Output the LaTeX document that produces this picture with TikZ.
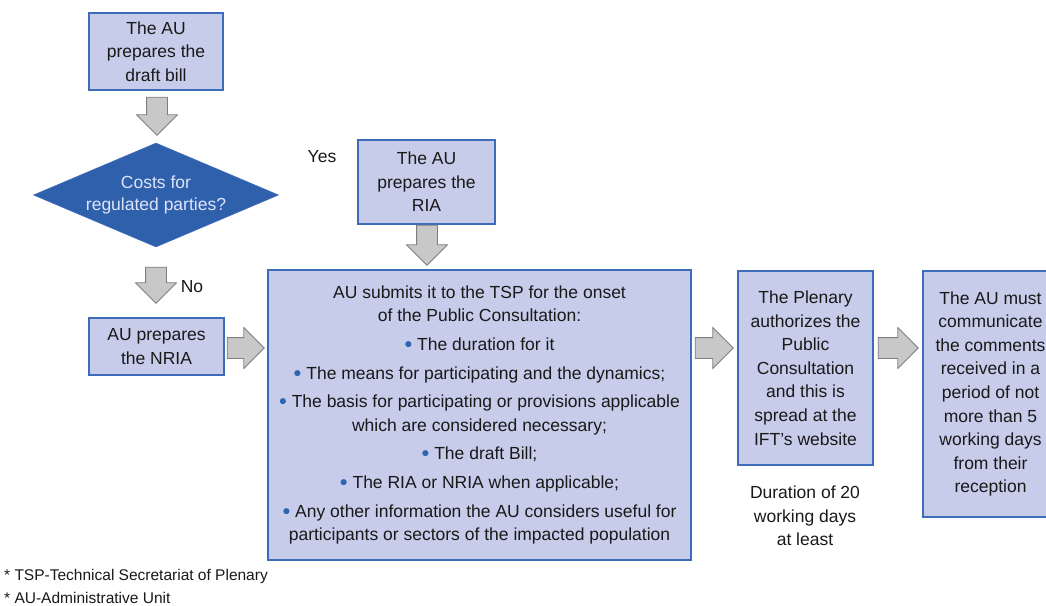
\documentclass[tikz,border=0pt]{standalone}
\usepackage{fontspec}
\setmainfont{Liberation Sans}
\usetikzlibrary{shapes.geometric,shapes.arrows,calc}
\definecolor{boxfill}{RGB}{198,204,234}
\definecolor{boxline}{RGB}{62,108,188}
\definecolor{diafill}{RGB}{47,96,172}
\definecolor{diatext}{RGB}{222,228,248}
\definecolor{arrfill}{RGB}{200,200,200}
\definecolor{arrline}{RGB}{125,125,125}
\definecolor{bul}{RGB}{46,100,180}
\definecolor{txt}{RGB}{25,25,25}
\newcommand{\bt}{{\color{bul}\raisebox{0.12em}{\scalebox{0.9}{$\bullet$}}}\ }
\begin{document}
\begin{tikzpicture}[x=1pt,y=-1pt,
  every node/.style={text=txt},
  procbox/.style={draw=boxline,line width=1.1pt,fill=boxfill,align=center,
    font=\fontsize{17.5}{23.6}\selectfont,inner sep=0pt},
  decbox/.style={diamond,draw=boxline,line width=0.6pt,fill=diafill,align=center,
    text=diatext,font=\fontsize{17.5}{22}\selectfont,inner sep=0pt,
    minimum width=245pt,minimum height=104pt,aspect=2.36},
  garrow/.style={single arrow,draw=arrline,fill=arrfill,line width=0.8pt,
    inner xsep=0pt,inner ysep=10pt,single arrow head extend=10pt,
    single arrow head indent=0pt,single arrow tip angle=90,minimum width=0pt},
  lbl/.style={font=\fontsize{17.5}{23.6}\selectfont,align=center,inner sep=0pt},
  note/.style={font=\fontsize{15.5}{19}\selectfont,anchor=west,inner sep=0pt}]
\useasboundingbox (0,0) rectangle (1046,605);
\node[procbox,minimum width=134pt,minimum height=77pt] (b1) at (156,51.5)
  {The AU\\prepares the\\draft bill};
\node[decbox] (dia) at (156,195) {Costs for\\regulated parties?};
\node[procbox,minimum width=135pt,minimum height=57pt] (nria) at (156.5,346.5)
  {AU prepares\\the NRIA};
\node[procbox,minimum width=137pt,minimum height=84pt] (ria) at (426.5,182)
  {The AU\\prepares the\\RIA};
\node[procbox,minimum width=423pt,minimum height=290pt] (big) at (479.5,415)
  {AU submits it to the TSP for the onset\\of the Public Consultation:\\[5pt]
   \bt The duration for it\\[5pt]
   \bt The means for participating and the dynamics;\\[5pt]
   \bt The basis for participating or provisions applicable\\which are considered necessary;\\[5pt]
   \bt The draft Bill;\\[5pt]
   \bt The RIA or NRIA when applicable;\\[5pt]
   \bt Any other information the AU considers useful for\\participants or sectors of the impacted population};
\node[procbox,minimum width=135pt,minimum height=194pt] (plen) at (805.5,368)
  {The Plenary\\authorizes the\\Public\\Consultation\\and this is\\spread at the\\IFT's website};
\node[procbox,minimum width=135pt,minimum height=246pt] (last) at (990.5,394)
  {The AU must\\communicate\\the comments\\received in a\\period of not\\more than 5\\working days\\from their\\reception};
% block arrows
\node[garrow,minimum height=38pt,rotate=-90] (a1) at (157,111) {};
\node[garrow,minimum height=36pt,rotate=-90] (a2) at (156,280) {};
\node[garrow,minimum height=37pt] (a3) at (240.5,348) {};
\node[garrow,minimum height=40pt,rotate=-90] (a4) at (427,240) {};
\node[garrow,minimum height=38pt] (a5) at (709,348) {};
\node[garrow,minimum height=40pt] (a6) at (893,348) {};
% labels
\node[lbl] (yes) at (322,157) {Yes};
\node[lbl] (no) at (192,287) {No};
\node[lbl] (dur) at (805,516) {Duration of 20\\working days\\at least};
\node[note] (n1) at (4,576) {* TSP-Technical Secretariat of Plenary};
\node[note] (n2) at (4,598) {* AU-Administrative Unit};
\end{tikzpicture}
\end{document}
